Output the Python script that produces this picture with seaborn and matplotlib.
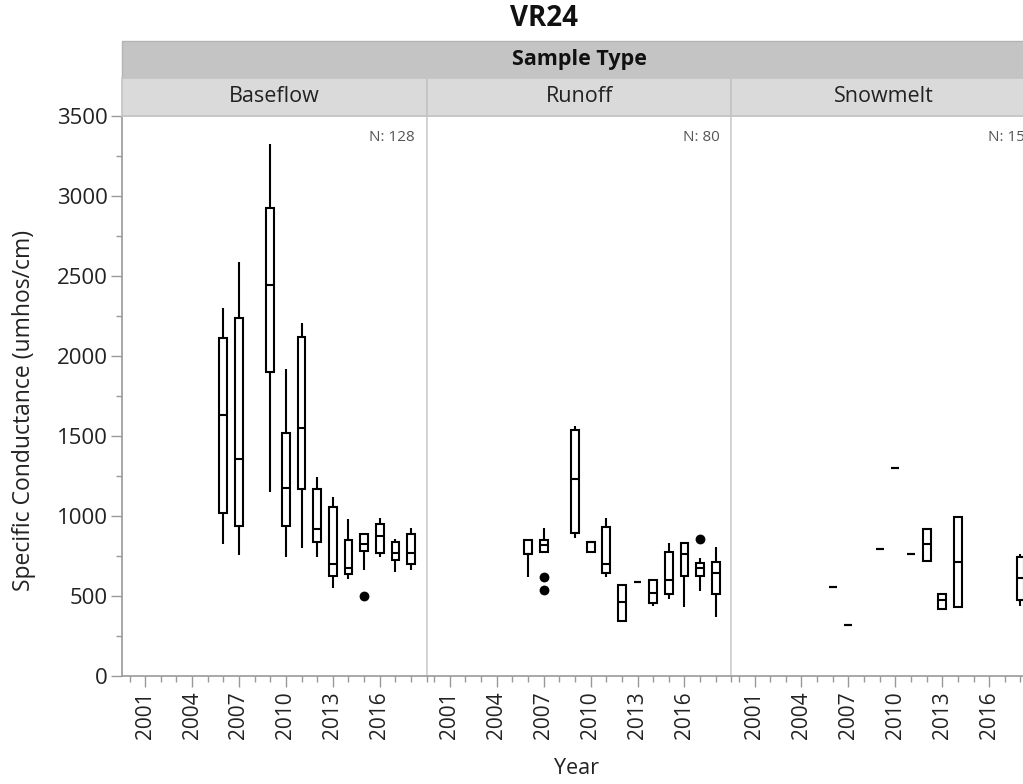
import numpy as np
import pandas as pd
import matplotlib
matplotlib.use("Agg")
import matplotlib.pyplot as plt
import seaborn as sns
from matplotlib.patches import Rectangle
from matplotlib.ticker import MultipleLocator

sns.set_theme(style="white")
plt.rcParams['font.family'] = ['Open Sans', 'DejaVu Sans']

# ---------------- data ----------------
title = "VR24"
group_title = "Sample Type"
sample_types = ["Baseflow", "Runoff", "Snowmelt"]
n_counts = [128, 80, 15]
year_ticks = [2001, 2004, 2007, 2010, 2013, 2016]
y_ticks = [0, 500, 1000, 1500, 2000, 2500, 3000, 3500]

base_years = [2006, 2007, 2009, 2010, 2011, 2012, 2013, 2014, 2015, 2016, 2017, 2018]
base_lo  = [825, 756, 1150, 744, 800, 744, 550, 606, 663, 744, 650, 663]
base_q1  = [1019, 938, 1900, 938, 1169, 838, 625, 638, 781, 769, 725, 700]
base_med = [1631, 1356, 2444, 1175, 1550, 919, 700, 675, 825, 875, 769, 769]
base_q3  = [2112, 2238, 2925, 1519, 2119, 1169, 1056, 850, 888, 950, 838, 888]
base_hi  = [2300, 2588, 3325, 1919, 2206, 1244, 1119, 981, 894, 988, 856, 925]
base_out_years = [2015]
base_out_vals = [500]

run_years = [2006, 2007, 2009, 2010, 2011, 2012, 2013, 2014, 2015, 2016, 2017, 2018]
run_lo  = [619, 775, 863, 775, 619, 344, 585, 438, 481, 431, 531, 369]
run_q1  = [763, 775, 894, 775, 644, 344, 585, 456, 513, 625, 625, 513]
run_med = [763, 819, 1231, 835, 700, 463, 585, 519, 600, 763, 675, 644]
run_q3  = [850, 850, 1538, 838, 931, 569, 585, 600, 775, 831, 706, 713]
run_hi  = [850, 925, 1563, 838, 988, 569, 585, 600, 831, 838, 738, 806]
run_out_years = [2007, 2007, 2017]
run_out_vals = [619, 538, 856]

snow_years = [2006, 2007, 2009, 2010, 2011, 2012, 2013, 2014, 2018]
snow_lo  = [556, 319, 794, 1300, 763, 719, 419, 431, 438]
snow_q1  = [556, 319, 794, 1300, 763, 719, 419, 431, 475]
snow_med = [556, 319, 794, 1300, 763, 825, 475, 713, 613]
snow_q3  = [556, 319, 794, 1300, 763, 919, 513, 994, 744]
snow_hi  = [556, 319, 794, 1300, 763, 919, 513, 994, 763]
snow_out_years = []
snow_out_vals = []

panels = [
    (base_years, base_lo, base_q1, base_med, base_q3, base_hi, base_out_years, base_out_vals),
    (run_years, run_lo, run_q1, run_med, run_q3, run_hi, run_out_years, run_out_vals),
    (snow_years, snow_lo, snow_q1, snow_med, snow_q3, snow_hi, snow_out_years, snow_out_vals),
]

# ---------------- layout ----------------
W, H = 1023, 784
fig = plt.figure(figsize=(W / 100, H / 100), dpi=100)
fig.patch.set_facecolor("white")

px_left = 122.0
px_w = 304.7
px_top = 116.0
px_bot = 676.0

ax_b = 1 - px_bot / H
ax_h = (px_bot - px_top) / H

axes = []
for i in range(3):
    ax = fig.add_axes([(px_left + i * px_w) / W, ax_b, px_w / W, ax_h])
    axes.append(ax)

for i, ax in enumerate(axes):
    yrs, lo, q1, med, q3, hi, oy, ov = panels[i]
    rows = []
    for y, a, b, c, d, e in zip(yrs, lo, q1, med, q3, hi):
        for v in (a, b, c, d, e):
            rows.append({"Year": y, "Value": v})
    df = pd.DataFrame(rows)
    sns.boxplot(data=df, x="Year", y="Value", native_scale=True, whis=(0, 100),
                width=0.5, color="white", linecolor="black", linewidth=1.5,
                showcaps=False, fliersize=0, ax=ax)
    if len(oy):
        sns.scatterplot(x=oy, y=ov, color="black", s=50, edgecolor="black",
                        linewidth=0, ax=ax, zorder=5)
    ax.set_xlim(1999.52, 2019.0)
    ax.set_ylim(0, 3500)
    ax.set_xticks(year_ticks)
    ax.set_xticklabels([str(t) for t in year_ticks], rotation=90, fontsize=15,
                       color="#222222")
    ax.xaxis.set_minor_locator(MultipleLocator(1))
    ax.set_xlabel("")
    ax.set_ylabel("")
    ax.tick_params(axis="x", which="major", direction="out", length=8, width=1,
                   color="#999999", bottom=True, pad=3)
    ax.tick_params(axis="x", which="minor", direction="out", length=4, width=1,
                   color="#999999", bottom=True)
    if i == 0:
        ax.set_yticks(y_ticks)
        ax.set_yticklabels([str(t) for t in y_ticks], fontsize=16, color="#222222")
        ax.yaxis.set_minor_locator(MultipleLocator(250))
        ax.tick_params(axis="y", which="major", direction="out", length=8, width=1,
                       color="#999999", left=True, pad=2)
        ax.tick_params(axis="y", which="minor", direction="out", length=4, width=1,
                       color="#999999", left=True)
        ax.spines["left"].set_color("#999999")
    else:
        ax.set_yticks(y_ticks)
        ax.set_yticklabels([])
        ax.tick_params(axis="y", which="both", left=False)
        ax.spines["left"].set_color("#d0d0d0")
    for s in ["left", "right", "top", "bottom"]:
        ax.spines[s].set_visible(True)
        ax.spines[s].set_linewidth(1.2)
    ax.spines["bottom"].set_color("#999999")
    ax.spines["right"].set_color("#d0d0d0")
    ax.spines["top"].set_color("#d0d0d0")
    ax.text(0.962, 0.975, f"N: {n_counts[i]}", transform=ax.transAxes,
            ha="right", va="top", fontsize=11, color="#555555")

# ---------------- strips ----------------
hdr_top, hdr_bot = 41.0, 77.5
sub_top, sub_bot = 77.5, 115.5
fig.add_artist(Rectangle((px_left / W, 1 - hdr_bot / H), (3 * px_w) / W,
                         (hdr_bot - hdr_top) / H, transform=fig.transFigure,
                         facecolor="#c4c4c4", edgecolor="#b4b4b4", linewidth=1))
fig.text((px_left + 1.5 * px_w) / W, 1 - (hdr_top + hdr_bot) / 2 / H, group_title,
         ha="center", va="center", fontsize=15.5, fontweight="bold", color="#111111")
for i, name in enumerate(sample_types):
    x0 = px_left + i * px_w
    fig.add_artist(Rectangle((x0 / W, 1 - sub_bot / H), px_w / W,
                             (sub_bot - sub_top) / H, transform=fig.transFigure,
                             facecolor="#dadada", edgecolor="#c4c4c4", linewidth=1.2))
    fig.text((x0 + px_w / 2) / W, 1 - (sub_top + sub_bot) / 2 / H, name,
             ha="center", va="center", fontsize=15.5, color="#222222")

# ---------------- titles ----------------
fig.text(544 / W, 1 - 18 / H, title, ha="center", va="center", fontsize=20,
         fontweight="bold", color="#111111")
fig.text(577 / W, 1 - 768 / H, "Year", ha="center", va="center", fontsize=15.5,
         color="#222222")
fig.text(24 / W, 1 - 410 / H, "Specific Conductance (umhos/cm)", ha="center",
         va="center", rotation=90, fontsize=16.5, color="#222222")

fig.savefig("out.png", dpi=100, facecolor="white")
